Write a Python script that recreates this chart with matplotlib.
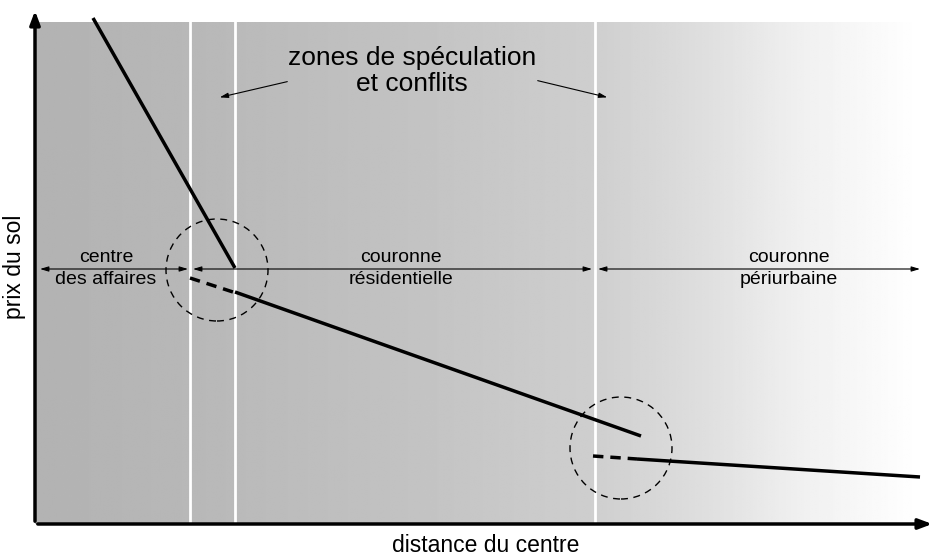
import numpy as np
import matplotlib.pyplot as plt
from matplotlib.patches import Circle

plt.rcParams['font.family'] = ['Liberation Sans', 'DejaVu Sans']

# distance du centre / prix du sol (arbitrary units)
cbd_dist = [58, 200]
cbd_price = [506, 256]
res_dash_dist = [155, 198]
res_dash_price = [246, 232]
res_dist = [200, 606]
res_price = [232, 88]
peri_dash_dist = [558, 602]
peri_dash_price = [68, 65]
peri_dist = [602, 885]
peri_price = [65, 47]

zone_bounds = [155, 200, 560]          # white separators
ring_dist = [5, 153, 158, 557, 563, 885]
ring_level = 255
ring_labels = ['centre\ndes affaires', 'couronne\nrésidentielle', 'couronne\npériurbaine']
ring_label_x = [71, 366, 754]
conflict_centres = [(182, 254), (586, 76)]

fig = plt.figure(figsize=(9.37, 5.59), dpi=100)
ax = fig.add_axes([0, 0, 1, 1])
ax.set_xlim(-35, 902)
ax.set_ylim(-35, 524)
ax.axis('off')

# grey background fading to white on the right
xs = np.array([0, 155, 365, 560, 665, 765, 885])
gs = np.array([0.70, 0.72, 0.76, 0.81, 0.87, 0.94, 1.0])
cols = np.interp(np.linspace(0, 885, 400), xs, gs)
ax.imshow(np.tile(cols, (2, 1)), cmap='gray', vmin=0, vmax=1, aspect='auto',
          extent=(0, 885, 0, 502), zorder=0, interpolation='bilinear')

for b in zone_bounds:
    ax.plot([b, b], [0, 502], color='white', lw=2, zorder=1)

# axes with arrows
ax.annotate('', xy=(0, 516), xytext=(0, 0),
            arrowprops=dict(arrowstyle='-|>,head_length=0.8,head_width=0.3', lw=2.5, color='black'))
ax.annotate('', xy=(900, 0), xytext=(0, 0),
            arrowprops=dict(arrowstyle='-|>,head_length=0.8,head_width=0.3', lw=2.5, color='black'))

# rings
for i in range(3):
    ax.annotate('', xy=(ring_dist[2 * i + 1], ring_level), xytext=(ring_dist[2 * i], ring_level),
                arrowprops=dict(arrowstyle='<|-|>,head_length=0.5,head_width=0.15', lw=0.8,
                                color='black', shrinkA=0, shrinkB=0))
    top, bottom = ring_labels[i].split('\n')
    ax.text(ring_label_x[i], ring_level + 11, top, ha='center', va='center', fontsize=14)
    ax.text(ring_label_x[i], ring_level - 11, bottom, ha='center', va='center', fontsize=14)

# bid-rent lines
ax.plot(cbd_dist, cbd_price, color='black', lw=2.5, solid_capstyle='butt')
ax.plot(res_dash_dist, res_dash_price, color='black', lw=2.5, ls=(0, (3, 2)))
ax.plot(res_dist, res_price, color='black', lw=2.5, solid_capstyle='butt')
ax.plot(peri_dash_dist, peri_dash_price, color='black', lw=2.5, ls=(0, (3, 2)))
ax.plot(peri_dist, peri_price, color='black', lw=2.5, solid_capstyle='butt')

for c in conflict_centres:
    ax.add_patch(Circle(c, 51, fill=False, ls=(0, (5, 4)), lw=1, color='black', zorder=3))

ax.text(377, 466, 'zones de spéculation', ha='center', va='center', fontsize=19)
ax.text(377, 440, 'et conflits', ha='center', va='center', fontsize=19)
ax.annotate('', xy=(182, 426), xytext=(255, 443),
            arrowprops=dict(arrowstyle='-|>,head_length=0.5,head_width=0.15', lw=0.8, color='black'))
ax.annotate('', xy=(575, 426), xytext=(500, 444),
            arrowprops=dict(arrowstyle='-|>,head_length=0.5,head_width=0.15', lw=0.8, color='black'))

ax.text(-20, 257, 'prix du sol', rotation=90, ha='center', va='center', fontsize=16.5)
ax.text(451, -22, 'distance du centre', ha='center', va='center', fontsize=16.5)

fig.savefig('out.png', dpi=100)
